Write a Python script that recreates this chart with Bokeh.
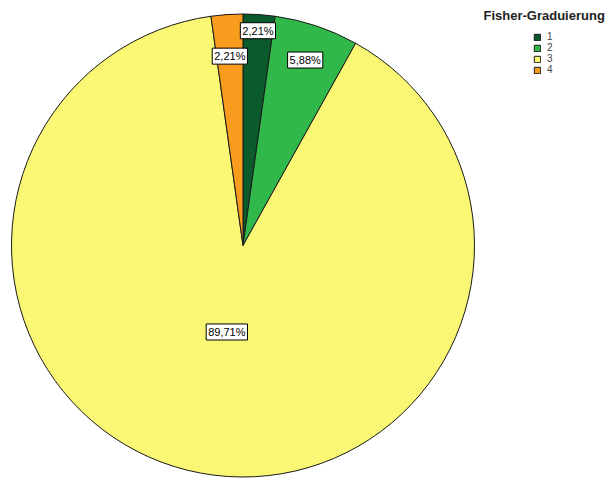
import math
from bokeh.plotting import figure
from bokeh.models import ColumnDataSource, Range1d, Legend, LegendItem, Label
from bokeh.embed import file_html
from bokeh.resources import INLINE
from bokeh.core.properties import value

# ---- data ----
categories = ["1", "2", "3", "4"]
percents = [2.21, 5.88, 89.71, 2.21]
labels = ["2,21%", "5,88%", "89,71%", "2,21%"]
colors = ["#0b5a2c", "#30b84b", "#f9f773", "#f89c1d"]
legend_title = "Fisher-Graduierung"

# ---- layout params ----
W, H = 606, 479
cx, cy, R = 242.5, 234.0, 231.5
label_r = [0.93, 0.845, 0.38, 0.82]

total = sum(percents)
starts, ends, lx, ly = [], [], [], []
a = math.pi / 2
for pct, lr in zip(percents, label_r):
    span = pct / total * 2 * math.pi
    starts.append(a)
    ends.append(a - span)
    mid = a - span / 2
    lx.append(cx + lr * R * math.cos(mid))
    ly.append(cy + lr * R * math.sin(mid))
    a -= span

src = ColumnDataSource(dict(cat=categories, start=starts, end=ends, color=colors,
                            x=[cx] * 4, y=[cy] * 4, lx=lx, ly=ly, lab=labels))

p = figure(width=W, height=H, output_backend="svg", toolbar_location=None,
           x_range=Range1d(0, W), y_range=Range1d(0, H),
           x_axis_location=None, y_axis_location=None, min_border=0,
           outline_line_color=None)
p.xgrid.visible = False
p.ygrid.visible = False

r = p.wedge(x="x", y="y", radius=R, start_angle="start", end_angle="end",
            direction="clock", fill_color="color", line_color="#1a1a1a",
            line_width=1, source=src)

p.text(x="lx", y="ly", text="lab", source=src, text_align="center",
       text_baseline="middle", text_font=value("Liberation Sans"),
       text_font_size="11px", text_color="black",
       background_fill_color="white", border_line_color="black",
       border_line_width=1, padding=2)

items = [LegendItem(label=c, renderers=[r], index=i) for i, c in enumerate(categories)]
legend = Legend(items=items, location=(533, H - 75), orientation="vertical",
                glyph_width=8, glyph_height=8, label_height=8, spacing=0,
                padding=0, margin=0, label_standoff=6,
                label_text_font="Liberation Sans", label_text_font_size="10px",
                border_line_color=None, background_fill_color=None)
p.add_layout(legend, "center")

p.add_layout(Label(x=483, y=H - 15, text=legend_title, x_units="screen", y_units="screen",
                   text_font="Liberation Sans", text_font_style="bold",
                   text_font_size="13px", text_color="#222222",
                   text_baseline="middle"))

open("out.html", "w").write(file_html(p, INLINE))
